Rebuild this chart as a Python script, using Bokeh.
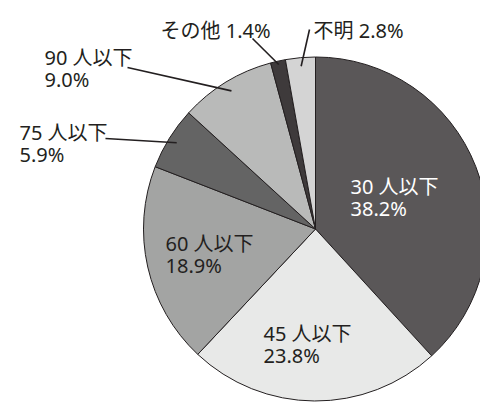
import math
from bokeh.plotting import figure
from bokeh.models import Range1d, ColumnDataSource
from bokeh.core.properties import value
from bokeh.embed import file_html
from bokeh.resources import INLINE

# ---- data ----
categories = ["30 人以下", "45 人以下", "60 人以下", "75 人以下", "90 人以下", "その他", "不明"]
shares = [38.2, 23.8, 18.9, 5.9, 9.0, 1.4, 2.8]
colors = ["#5a5758", "#e8e9e8", "#a3a4a3", "#646464", "#b9bab9", "#3e3a3b", "#d4d4d4"]

# ---- layout (screen pixel coordinates) ----
W, H = 480, 405
def sy(y):
    return H - y

CX, CY, R = 315, sy(228.5), 172
# label left x, first-line baseline (screen y), two-line?, text colour
label_x = [350, 263, 165, 19, 44, 160, 313]
label_y = [186, 333, 243, 132, 57, 30, 30]
two_line = [True, True, True, True, True, False, False]
label_col = ["#ffffff", "#231f20", "#231f20", "#231f20", "#231f20", "#231f20", "#231f20"]
# leader line start (screen), None if no leader
leader_start = [None, None, None, (105, 138), (127, 67), (252, 38), (309, 29)]
leader_rfrac = [0, 0, 0, 0.95, 0.94, 0.98, 0.95]
LINE_GAP = 22
FONT = value("Noto Sans, Noto Sans CJK JP")
FSIZE = "20px"

total = sum(shares)
starts, ends, mids = [], [], []
cum = 0.0
for s in shares:
    a0 = math.pi / 2 - 2 * math.pi * cum / total
    cum += s
    a1 = math.pi / 2 - 2 * math.pi * cum / total
    starts.append(a0)
    ends.append(a1)
    mids.append((a0 + a1) / 2)

p = figure(width=W, height=H, output_backend="svg", toolbar_location=None,
           x_range=Range1d(0, W), y_range=Range1d(0, H),
           min_border=0, min_border_left=0, min_border_right=0,
           min_border_top=0, min_border_bottom=0)
p.axis.visible = False
p.grid.visible = False
p.outline_line_color = None
p.background_fill_color = "white"
p.border_fill_color = "white"

src = ColumnDataSource(dict(start=starts, end=ends, color=colors))
p.wedge(x=CX, y=CY, radius=R, start_angle="start", end_angle="end",
        direction="clock", fill_color="color", line_color="#231f20",
        line_width=1, source=src)

# leader lines
x0s, y0s, x1s, y1s = [], [], [], []
for i, st in enumerate(leader_start):
    if st is None:
        continue
    m = mids[i]
    x0s.append(st[0])
    y0s.append(sy(st[1]))
    x1s.append(CX + leader_rfrac[i] * R * math.cos(m))
    y1s.append(CY + leader_rfrac[i] * R * math.sin(m))
p.segment(x0=x0s, y0=y0s, x1=x1s, y1=y1s, line_color="#231f20", line_width=1.6)

# labels
t1x, t1y, t1t, t1c = [], [], [], []
for i, cat in enumerate(categories):
    pct = f"{shares[i]:.1f}%"
    if two_line[i]:
        t1x += [label_x[i], label_x[i]]
        t1y += [sy(label_y[i]), sy(label_y[i] + LINE_GAP)]
        t1t += [cat, pct]
        t1c += [label_col[i], label_col[i]]
    else:
        t1x.append(label_x[i])
        t1y.append(sy(label_y[i]))
        t1t.append(f"{cat} {pct}")
        t1c.append(label_col[i])
p.text(x=t1x, y=t1y, text=t1t, text_color=t1c, text_font=FONT,
       text_font_size=FSIZE, text_align="left", text_baseline="alphabetic")

open("out.html", "w").write(file_html(p, INLINE))
